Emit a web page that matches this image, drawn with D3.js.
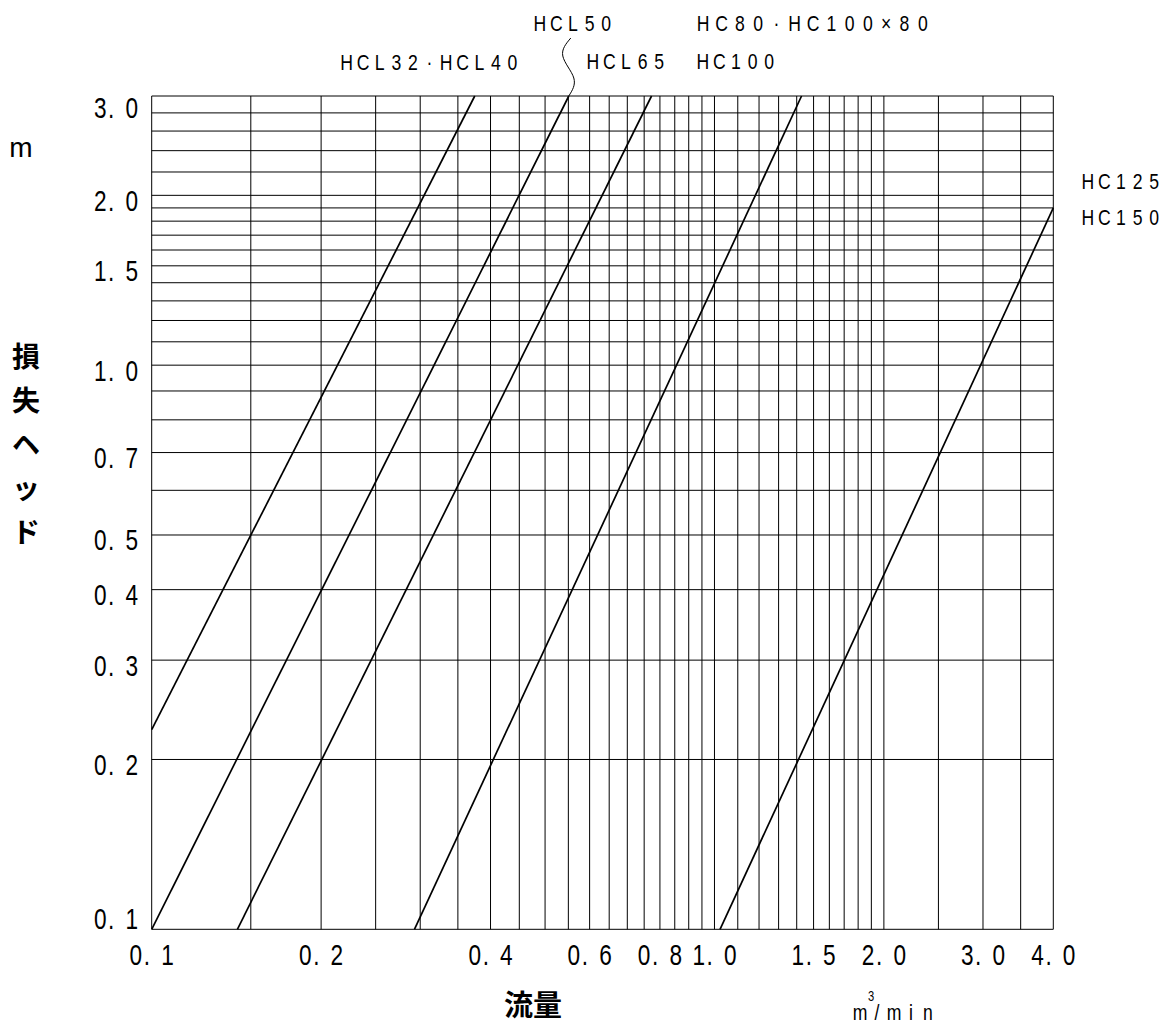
<!DOCTYPE html>
<html>
<head>
<meta charset="utf-8">
<script src="https://cdn.jsdelivr.net/npm/d3@7"></script>
<style>
  body { margin: 0; background: #fff; }
  text { font-family: "Liberation Sans", Arial, sans-serif; fill: #000; }
  .jp { font-family: "Noto Sans CJK JP", sans-serif; }
</style>
</head>
<body>
<svg id="chart" width="1170" height="1027"></svg>
<script>
// flow (m3/min) vs head loss (m), log-log paper

// vertical grid lines / flow ticks
var xGrid = [0.1, 0.15, 0.2, 0.25, 0.3, 0.35, 0.4, 0.45, 0.5, 0.55, 0.6, 0.65, 0.7, 0.75,
  0.8, 0.85, 0.9, 0.95, 1.0, 1.1, 1.2, 1.3, 1.4, 1.5, 1.6, 1.7, 1.8, 1.9, 2.0, 2.5, 3.0, 3.5, 4.0];
var xTicks = [0.1, 0.2, 0.4, 0.6, 0.8, 1.0, 1.5, 2.0, 3.0, 4.0];

// horizontal grid lines / head ticks
var yGrid = [0.1, 0.2, 0.3, 0.4, 0.5, 0.6, 0.7, 0.8, 0.9, 1.0, 1.1, 1.2, 1.3, 1.4, 1.5,
  1.6, 1.7, 1.8, 1.9, 2.0, 2.2, 2.4, 2.6, 2.8, 3.0];
var yTicks = [0.1, 0.2, 0.3, 0.4, 0.5, 0.7, 1.0, 1.5, 2.0, 3.0];

// each model line read at the two points where it meets the frame
var seriesNames = ["HCL32・HCL40", "HCL50", "HCL65", "HC80・HC100", "HC125・HC150"];
var seriesFlow = [[0.1, 0.375], [0.1, 0.551], [0.142, 0.773], [0.293, 1.428], [1.023, 4.0]];
var seriesHead = [[0.226, 3.0], [0.1, 3.0], [0.1, 3.0], [0.1, 3.0], [0.1, 1.90]];

var svg = d3.select("#chart");

var x = d3.scaleLog().domain([0.1, 4.0]).range([151.7, 1053.3]);
var y = d3.scaleLog().domain([0.1, 3.0]).range([929.3, 96]);

var fmt = d3.format(".1f");

// CAD style lettering: every character sits in its own fixed cell
function cellX(str, cx, o) {
  var chars = Array.from(str);
  var x0 = cx - (chars.length - 1) * o.pitch / 2;
  return chars.map(function (c, i) {
    var px = x0 + i * o.pitch;
    if (c === ".") px -= o.pitch * 0.3;
    return (px / o.sx).toFixed(2);
  }).join(" ");
}

function cadText(parent, str, cx, baseline, o) {
  return parent.append("text")
    .attr("transform", "translate(0," + baseline + ") scale(" + o.sx + ",1)")
    .attr("x", cellX(str, cx, o))
    .attr("text-anchor", "middle")
    .attr("font-size", o.size)
    .text(str);
}

var big = { size: 29, sx: 0.78, pitch: 15.8 };
var small = { size: 22, sx: 0.8, pitch: 16.6 };

// grid
var grid = svg.append("g")
  .attr("stroke", "#000")
  .attr("stroke-width", 1)
  .attr("fill", "none");

grid.selectAll(".vgrid")
  .data(xGrid)
  .enter().append("line")
    .attr("class", "vgrid")
    .attr("x1", function (d) { return x(d); })
    .attr("x2", function (d) { return x(d); })
    .attr("y1", y(0.1))
    .attr("y2", y(3.0));

grid.selectAll(".hgrid")
  .data(yGrid)
  .enter().append("line")
    .attr("class", "hgrid")
    .attr("x1", x(0.1))
    .attr("x2", x(4.0))
    .attr("y1", function (d) { return y(d); })
    .attr("y2", function (d) { return y(d); });

// model lines
var line = d3.line()
  .x(function (d) { return x(d[0]); })
  .y(function (d) { return y(d[1]); });

svg.append("g").selectAll("path")
  .data(seriesNames)
  .enter().append("path")
    .attr("d", function (d, i) {
      return line(d3.zip(seriesFlow[i], seriesHead[i]));
    })
    .attr("fill", "none")
    .attr("stroke", "#000")
    .attr("stroke-width", 1.7);

// tick labels
xTicks.forEach(function (v) {
  cadText(svg, fmt(v), x(v), 965, big);
});

yTicks.forEach(function (v) {
  var b = y(v) + 15.5;
  if (b < y(3.0) + 22) b = y(3.0) + 22;
  if (b > y(0.1)) b = y(0.1);
  cadText(svg, fmt(v), 116, b, big);
});

// model names
cadText(svg, "HCL32·HCL40", 429.5, 70, small);
cadText(svg, "HCL50", 573, 31, small);
cadText(svg, "HC80·HC100×80", 813, 31, { size: 22, sx: 0.8, pitch: 18.3 });
cadText(svg, "HCL65", 626, 69, small);
cadText(svg, "HC100", 736, 69, small);
cadText(svg, "HC125", 1121, 189, small);
cadText(svg, "HC150", 1121, 225, small);

// wavy leader from HCL50 down to its line
var ex = x(seriesFlow[1][1]), ey = y(3.0);
svg.append("path")
  .attr("d", d3.line().curve(d3.curveNatural)([
    [ex, ey], [ex + 5, ey - 18], [ex - 6, ey - 40], [ex + 2, ey - 58]
  ]))
  .attr("fill", "none")
  .attr("stroke", "#000")
  .attr("stroke-width", 1);

// axis titles
svg.append("text")
  .attr("x", 21).attr("y", 157)
  .attr("text-anchor", "middle")
  .attr("font-size", 28)
  .text("m");

Array.from("損失ヘッド").forEach(function (c, i) {
  svg.append("text")
    .attr("class", "jp")
    .attr("x", 26).attr("y", 367 + i * 44)
    .attr("text-anchor", "middle")
    .attr("font-size", 28)
    .attr("font-weight", 700)
    .text(c);
});

svg.append("text")
  .attr("class", "jp")
  .attr("x", 533).attr("y", 1016)
  .attr("text-anchor", "middle")
  .attr("font-size", 29)
  .attr("font-weight", 700)
  .text("流量");

// unit m3/min, superscript kept in the same text
var unitCell = { sx: 0.8, pitch: 17 };
var unit = svg.append("text")
  .attr("transform", "translate(0,1020) scale(0.8,1)")
  .attr("text-anchor", "middle")
  .attr("font-size", 22);
unit.append("tspan").attr("x", (860 / 0.8).toFixed(2)).text("m");
unit.append("tspan").attr("x", (871 / 0.8).toFixed(2)).attr("dy", -19)
  .attr("font-size", 14).text("3");
unit.append("tspan").attr("x", cellX("/min", 902.5, unitCell)).attr("dy", 19).text("/min");
</script>
</body>
</html>
